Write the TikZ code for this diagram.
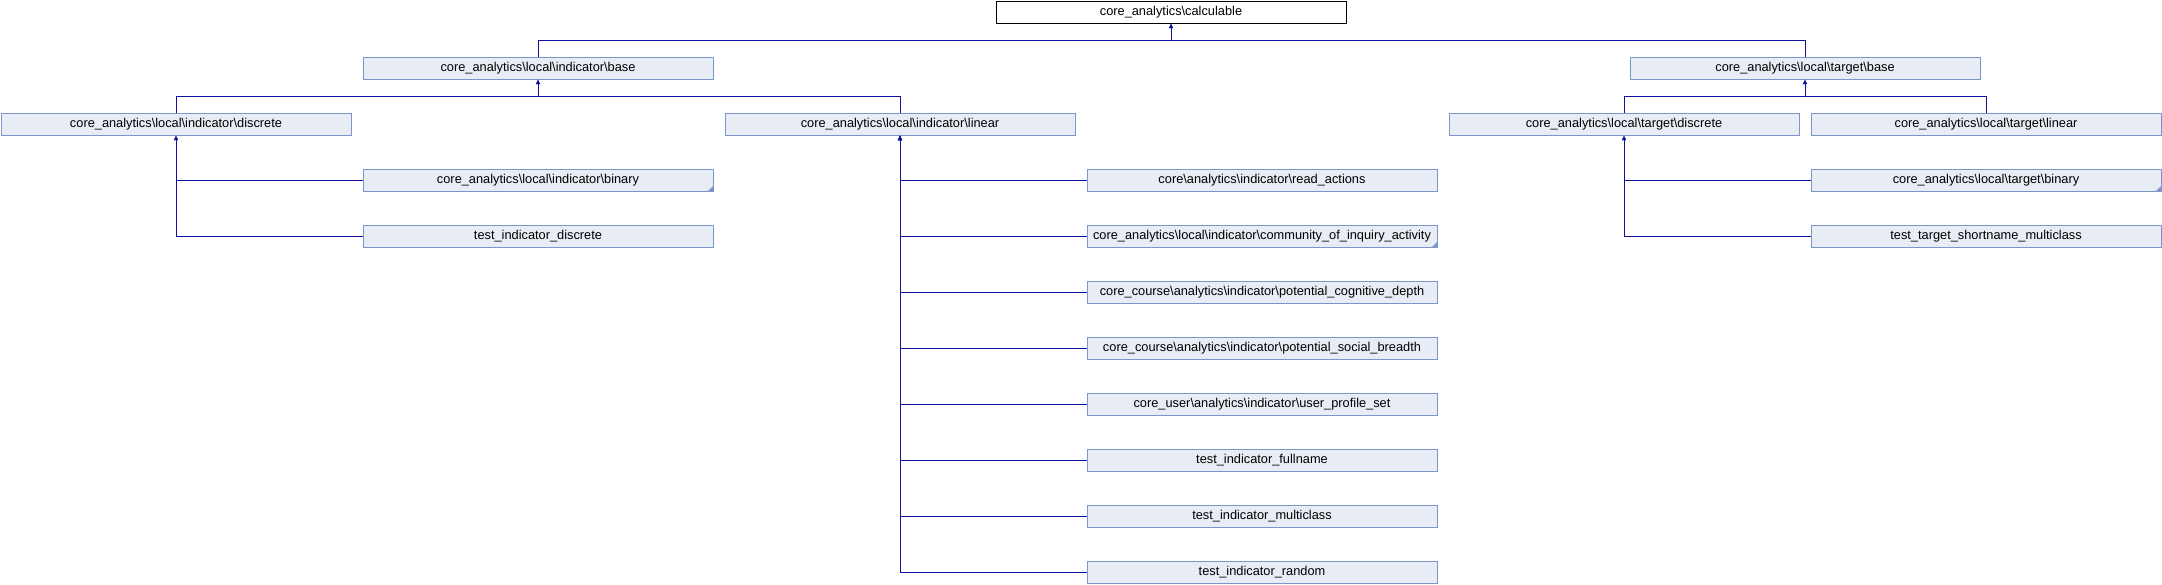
\documentclass[tikz,border=0pt]{standalone}
\usepackage{fontspec}
\setmainfont{Liberation Sans}
\usetikzlibrary{arrows.meta}
\definecolor{boxfill}{HTML}{E8ECF5}
\definecolor{boxline}{HTML}{7C95CA}
\definecolor{edgeblue}{HTML}{10109C}
\newcommand{\bsl}{\textbackslash}

\begin{document}
\begin{tikzpicture}[x=1pt,y=-1pt,>={Latex[length=4.5pt,width=4.5pt]},
  cls/.style={draw=boxline,fill=boxfill,line width=1pt,anchor=north west,
    minimum width=350pt,minimum height=22pt,inner sep=0pt,
    font=\fontsize{12.8}{14}\selectfont},
  rootcls/.style={cls,draw=black,fill=white},
  inh/.style={->,draw=edgeblue,line width=1pt}]

  \useasboundingbox (0,0) rectangle (2162,584);

  \node[rootcls] (calc)  at (995.5,0.5)    {core\_analytics\bsl calculable};
  \node[cls]     (ibase) at (362.5,56.5)   {core\_analytics\bsl local\bsl indicator\bsl base};
  \node[cls]     (tbase) at (1629.5,56.5)  {core\_analytics\bsl local\bsl target\bsl base};

  \node[cls] (idisc) at (0.5,112.5)    {core\_analytics\bsl local\bsl indicator\bsl discrete};
  \node[cls] (ilin)  at (724.5,112.5)  {core\_analytics\bsl local\bsl indicator\bsl linear};
  \node[cls] (tdisc) at (1448.5,112.5) {core\_analytics\bsl local\bsl target\bsl discrete};
  \node[cls] (tlin)  at (1810.5,112.5) {core\_analytics\bsl local\bsl target\bsl linear};

  \node[cls] (ibin)  at (362.5,168.5)  {core\_analytics\bsl local\bsl indicator\bsl binary};
  \node[cls] (itest) at (362.5,224.5)  {test\_indicator\_discrete};

  \node[cls] (lread) at (1086.5,168.5) {core\bsl analytics\bsl indicator\bsl read\_actions};
  \node[cls] (lcoi)  at (1086.5,224.5) {core\_analytics\bsl local\bsl indicator\bsl community\_of\_inquiry\_activity};
  \node[cls] (lcog)  at (1086.5,280.5) {core\_course\bsl analytics\bsl indicator\bsl potential\_cognitive\_depth};
  \node[cls] (lsoc)  at (1086.5,336.5) {core\_course\bsl analytics\bsl indicator\bsl potential\_social\_breadth};
  \node[cls] (lprof) at (1086.5,392.5) {core\_user\bsl analytics\bsl indicator\bsl user\_profile\_set};
  \node[cls] (lfull) at (1086.5,448.5) {test\_indicator\_fullname};
  \node[cls] (lmult) at (1086.5,504.5) {test\_indicator\_multiclass};
  \node[cls] (lrand) at (1086.5,560.5) {test\_indicator\_random};

  \node[cls] (tbin)  at (1810.5,168.5) {core\_analytics\bsl local\bsl target\bsl binary};
  \node[cls] (ttest) at (1810.5,224.5) {test\_target\_shortname\_multiclass};

  % more subclasses not shown
  \foreach \n in {ibin,lcoi,tbin}
    \fill[boxline] ([shift={(-6,0)}]\n.south east) -- (\n.south east)
      -- ([shift={(0,-6)}]\n.south east) -- cycle;

  \draw[inh] (ibase.north) -- ++(0,-16) -| (calc.south);
  \draw[inh] (tbase.north) -- ++(0,-16) -| (calc.south);

  \draw[inh] (idisc.north) -- ++(0,-16) -| (ibase.south);
  \draw[inh] (ilin.north)  -- ++(0,-16) -| (ibase.south);
  \draw[inh] (tdisc.north) -- ++(0,-16) -| (tbase.south);
  \draw[inh] (tlin.north)  -- ++(0,-16) -| (tbase.south);

  \draw[inh] (ibin.west)  -| (idisc.south);
  \draw[inh] (itest.west) -| (idisc.south);

  \draw[inh] (lread.west) -| (ilin.south);
  \draw[inh] (lcoi.west)  -| (ilin.south);
  \draw[inh] (lcog.west)  -| (ilin.south);
  \draw[inh] (lsoc.west)  -| (ilin.south);
  \draw[inh] (lprof.west) -| (ilin.south);
  \draw[inh] (lfull.west) -| (ilin.south);
  \draw[inh] (lmult.west) -| (ilin.south);
  \draw[inh] (lrand.west) -| (ilin.south);

  \draw[inh] (tbin.west)  -| (tdisc.south);
  \draw[inh] (ttest.west) -| (tdisc.south);
\end{tikzpicture}
\end{document}
